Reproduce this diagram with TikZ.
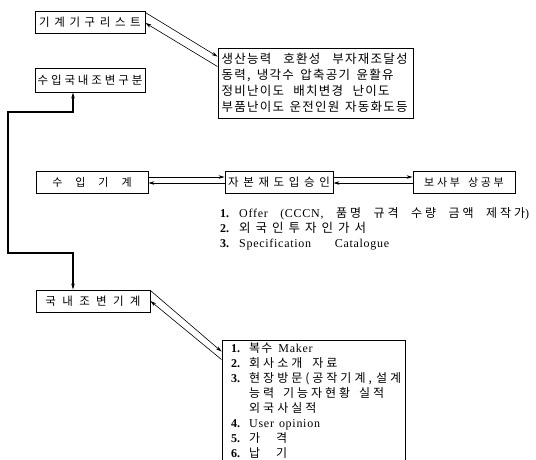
\documentclass[tikz,border=0pt]{standalone}
\usepackage{fontspec}
\setmainfont{Liberation Serif}
\newfontfamily\lat[LetterSpace=6]{Liberation Serif}
\newfontfamily\kr{Noto Sans CJK KR}
\newfontfamily\krA[LetterSpace=10]{Noto Sans CJK KR}
\newfontfamily\krB[LetterSpace=25]{Noto Sans CJK KR}
\newfontfamily\krC[LetterSpace=40]{Noto Sans CJK KR}
\newfontfamily\krD[LetterSpace=55]{Noto Sans CJK KR}
\usetikzlibrary{arrows.meta,calc}
\begin{document}
\begin{tikzpicture}[x=1pt,y=-1pt,
  box/.style={draw, line width=0.9pt, rectangle, inner sep=0pt},
  link/.style={line width=0.6pt},
  conn/.style={line width=1.2pt},
  tip/.style={-{Stealth[length=6pt,width=3.5pt]}},
  txt/.style={inner sep=0pt, align=left}]
\useasboundingbox (0,0) rectangle (536,459);
% boxes
\node[box, minimum width=110pt, minimum height=22pt, font=\fontsize{11.5}{12}\selectfont] (A) at (90,22) {\krC 기계기구리스트};
\node[box, minimum width=195pt, minimum height=70pt, text width=188pt, align=left, font=\fontsize{12.5}{16}\selectfont] (B) at (315.5,83)
  {\krA\makebox[186pt][l]{생산능력\hfill 호환성\hfill 부자재조달성}\\
   \krA\makebox[172pt][l]{동력,\hfill 냉각수\hfill 압축공기\hfill 윤활유}\\
   \krA\makebox[168pt][l]{정비난이도\hfill 배치변경\hfill 난이도}\\
   \krA\makebox[186pt][l]{부품난이도\hfill 운전인원\hfill 자동화도등}};
\node[box, minimum width=110pt, minimum height=24pt, font=\fontsize{11.5}{12}\selectfont] (C) at (90,80) {\krB 수입국내조변구분};
\node[box, minimum width=112pt, minimum height=22pt, font=\fontsize{11}{12}\selectfont] (D) at (92,182) {\kr 수\hspace{13pt}입\hspace{13pt}기\hspace{13pt}계};
\node[box, minimum width=108pt, minimum height=22pt, font=\fontsize{11.5}{12}\selectfont] (E) at (279,182) {\krC 자본재도입승인};
\node[box, minimum width=102pt, minimum height=22pt, font=\fontsize{11}{12}\selectfont] (P) at (464,182) {\krB 보사부\hspace{8pt}상공부};
\node[box, minimum width=114pt, minimum height=22pt, font=\fontsize{11.5}{12}\selectfont] (F) at (93,301) {\krD 국내조변기계};
\node[box, minimum width=183pt, minimum height=142pt] (G) at (313.5,411) {};
% list under E
\node[txt, anchor=north west, font=\fontsize{12}{15}\selectfont] (L) at (220,207)
  {\begin{tabular}{@{}l@{\hspace{10pt}}l@{}}
   \textbf{1.} & \makebox[290pt][l]{\lat Offer\hfill(CCCN,\hfill{\krB 품명}\hfill{\krB 규격}\hfill{\krB 수량}\hfill{\krB 금액}\hfill{\krB 제작가})}\\
   \textbf{2.} & {\krC\fontsize{12.5}{15}\selectfont 외국인투자인가서}\\
   \textbf{3.} & \makebox[150pt][l]{\lat Specification\hfill Catalogue}
   \end{tabular}};
% list inside G
\node[txt, anchor=north west, font=\fontsize{12}{15}\selectfont] (Gt) at (231,342)
  {\begin{tabular}{@{}l@{\hspace{9pt}}l@{}}
   \textbf{1.} & {\krA 복수}\hspace{6pt}{\lat Maker}\\
   \textbf{2.} & {\krB 회사소개}\hspace{10pt}{\krB 자료}\\
   \textbf{3.} & \makebox[152pt][l]{\krB 현장방문(공작기계,\hfill 설계}\\
               & \makebox[135pt][l]{\krB 능력\hfill 기능자현황\hfill 실적}\\
               & {\krB 외국사실적}\\
   \textbf{4.} & {\lat User\hspace{5pt}opinion}\\
   \textbf{5.} & {\kr 가\hspace{16pt}격}\\
   \textbf{6.} & {\kr 납\hspace{16pt}기}
   \end{tabular}};
% A <-> B
\draw[link,tip] ([yshift=-2pt]A.north east) -- ([yshift=-9pt]B.north west);
\draw[link,tip] ([yshift=-19pt]B.north west) -- ([yshift=-1pt]A.east);
% D <-> E
\draw[link,tip] ([yshift=5pt]D.east) -- ([yshift=5pt]E.west);
\draw[link,tip] ([yshift=-1pt]E.west) -- ([yshift=-1pt]D.east);
% E <-> P
\draw[link,tip] ([yshift=5pt]E.east) -- ([yshift=5pt]P.west);
\draw[link,tip] ([yshift=-1pt]P.west) -- ([yshift=-1pt]E.east);
% F <-> G
\draw[link,tip] ([yshift=-1pt]F.north east) -- ([yshift=-12pt]G.north west);
\draw[link,tip] ([yshift=-20pt]G.north west) -- ([yshift=0pt]F.east);
% C / F connector
\coordinate (k1) at (73,112);
\coordinate (k2) at (8,112);
\coordinate (k3) at (8,253);
\coordinate (k4) at (73,253);
\draw[conn,{Stealth[length=6pt,width=3.5pt]}-{Stealth[length=6pt,width=3.5pt]}]
  (k1 |- C.south) -- (k1) -- (k2) -- (k3) -- (k4) -- (k4 |- F.north);
\end{tikzpicture}
\end{document}
